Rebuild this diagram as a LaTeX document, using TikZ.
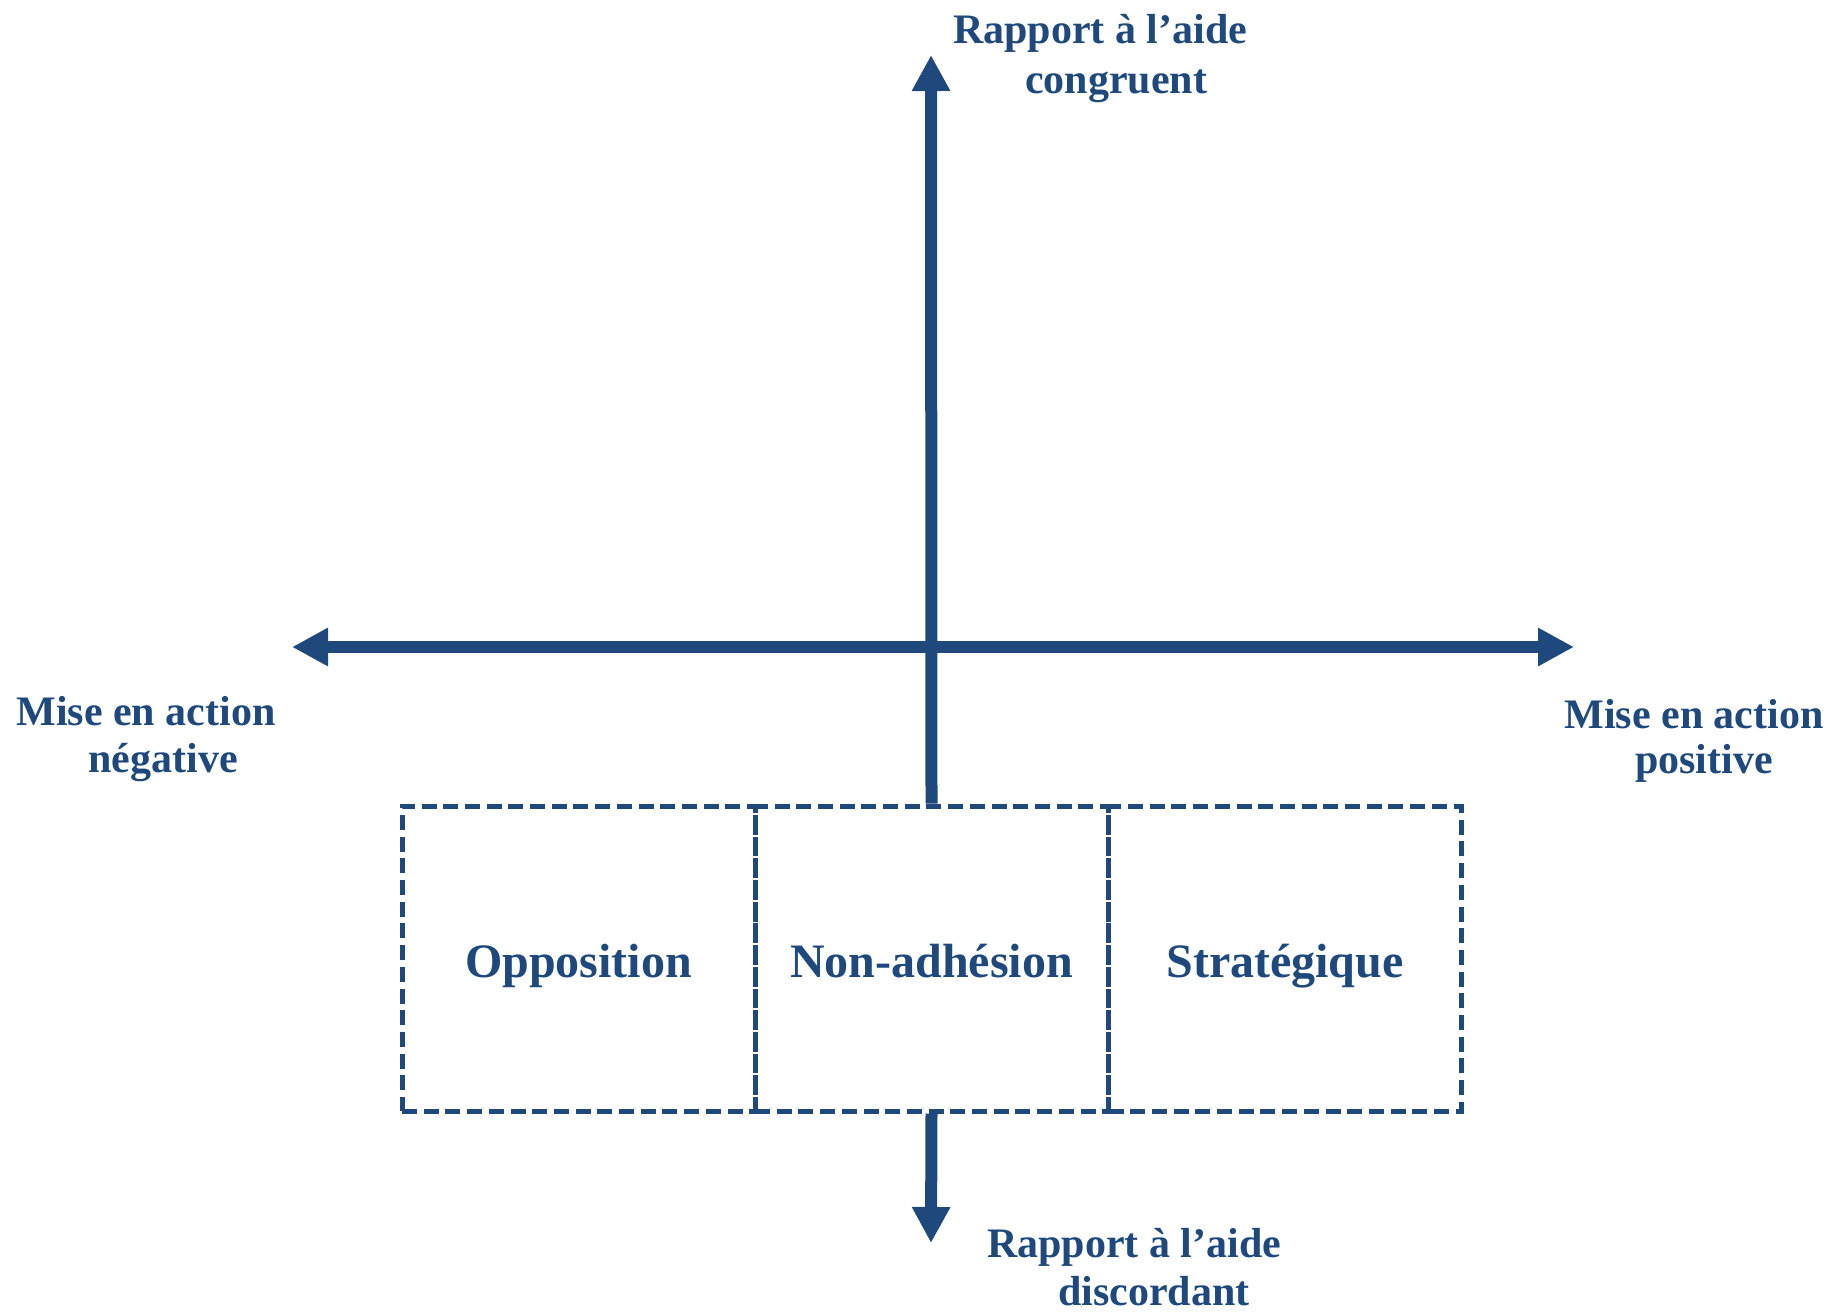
\documentclass[tikz,border=0pt]{standalone}
\usepackage{fontspec}
\setmainfont{Liberation Serif}
\usetikzlibrary{arrows.meta}
\definecolor{navy}{RGB}{31,73,125}
\begin{document}
\begin{tikzpicture}[x=0.5pt,y=-0.5pt,
  tipstyle/.style={},
  axis/.style={line width=6pt, draw=navy, -{Triangle[length=18pt,width=18pt]}},
  axistwo/.style={line width=6pt, draw=navy, {Triangle[length=18pt,width=18pt]}-{Triangle[length=18pt,width=18pt]}},
  cell/.style={draw=navy, line width=2.5pt, dash pattern=on 7.5pt off 3.35pt,
    minimum width=176.5pt, minimum height=152.5pt, inner sep=0pt,
    text height=18.5pt, text depth=0pt,
    font=\fontsize{24pt}{28pt}\selectfont\bfseries, text=navy},
  lbl/.style={anchor=base, text=navy, inner sep=0pt,
    font=\fontsize{21pt}{24pt}\selectfont\bfseries}]
\useasboundingbox (0,0) rectangle (1847,1313);
% boxes
\node[cell] (opp) at (578.5,958.5) {Opposition};
\node[cell] (non) at (931.5,958.5) {Non-adhésion};
\node[cell] (str) at (1285,958.5) {Stratégique};
% axis endpoints
\coordinate (top) at (931,55);
\coordinate (bot) at (931,1243);
\coordinate (left) at (292,647);
\coordinate (right) at (1574,647);
% axes
\draw[axistwo] (left) -- (right);
\draw[axis] (non.north) -- (top);
\draw[axis] (non.south) -- (bot);
% labels
\node[lbl] (t1) at (1100,43) {Rapport à l’aide};
\node[lbl] (t2) at (1116,93) {congruent};
\node[lbl] (l1) at (146,725) {Mise en action};
\node[lbl] (l2) at (163,772) {négative};
\node[lbl] (r1) at (1694,728) {Mise en action};
\node[lbl] (r2) at (1704,773) {positive};
\node[lbl] (b1) at (1134,1257) {Rapport à l’aide};
\node[lbl] (b2) at (1154,1305) {discordant};
\end{tikzpicture}
\end{document}
